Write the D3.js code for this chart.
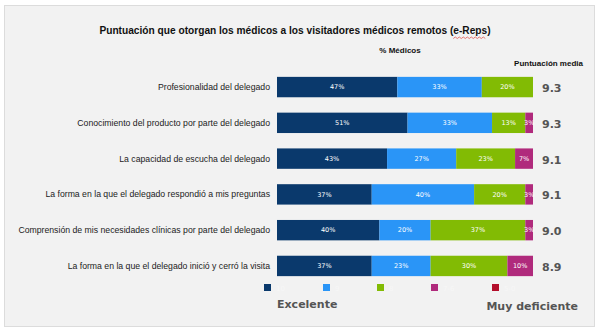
<!doctype html>
<html>
<head>
  <meta charset="utf-8">
  <script src="https://d3js.org/d3.v7.min.js"></script>
  <style>
    body { margin: 0; background: #fff; }
    svg { display: block; }
    .cat { font-family: "Liberation Sans", Arial, sans-serif; font-size: 8.7px; fill: #222; }
    .pct { font-family: "DejaVu Sans", Verdana, sans-serif; font-size: 6.5px; fill: #fff; }
    .score { font-family: "DejaVu Sans", Verdana, sans-serif; font-size: 11px; font-weight: bold; fill: #555; }
    .head { font-family: "Liberation Sans", Arial, sans-serif; font-weight: bold; fill: #111; }
    .scale-end { font-family: "DejaVu Sans", Verdana, sans-serif; font-size: 11px; font-weight: bold; fill: #555; }
  </style>
</head>
<body>
<script>
  var categories = [
    "Profesionalidad del delegado",
    "Conocimiento del producto por parte del delegado",
    "La capacidad de escucha del delegado",
    "La forma en la que el delegado respondió a mis preguntas",
    "Comprensión de mis necesidades clínicas por parte del delegado",
    "La forma en la que el delegado inició y cerró la visita"
  ];
  var ratings = ["10", "9", "8", "7-6", "5-0"];
  var score10 = [47, 51, 43, 37, 40, 37];
  var score9  = [33, 33, 27, 40, 20, 23];
  var score8  = [20, 13, 23, 20, 37, 30];
  var score76 = [0, 3, 7, 3, 3, 10];
  var score50 = [0, 0, 0, 0, 0, 0];
  var meanScore = [9.3, 9.3, 9.1, 9.1, 9.0, 8.9];
  var colors = ["#0a396c", "#2a95f7", "#82bb04", "#b02a7c", "#b30e2b"];

  var W = 600, H = 333;
  var svg = d3.select("body").append("svg").attr("width", W).attr("height", H);

  // panel
  svg.append("rect")
    .attr("x", 4.5).attr("y", 5.5).attr("width", 590).attr("height", 321)
    .attr("fill", "#f2f2f2").attr("stroke", "#dcdcdc");

  var titleText = "Puntuación que otorgan los médicos a los visitadores médicos remotos (e-Reps)";
  var title = svg.append("text").attr("class", "head")
    .attr("x", 295).attr("y", 34).attr("text-anchor", "middle")
    .style("font-size", "12px")
    .text(titleText);
  // size the title so it spans ~392px
  var tw = title.node().getComputedTextLength();
  title.style("font-size", (12 * 392 / tw) + "px");

  // spell-check squiggle under e-Reps
  var tnode = title.node();
  var start = titleText.indexOf("e-Reps");
  var sx = tnode.getStartPositionOfChar(start).x;
  var ex = tnode.getEndPositionOfChar(start + 5).x;
  var squig = d3.range(sx, ex, 2).map(function (d, i) { return [d, i % 2 ? 37 : 38.5]; });
  svg.append("path").attr("d", d3.line()(squig)).attr("fill", "none")
    .attr("stroke", "#e0403a").attr("stroke-width", 0.7);

  svg.append("text").attr("class", "head")
    .attr("x", 400).attr("y", 53).attr("text-anchor", "middle")
    .style("font-size", "8px").text("% Médicos");

  svg.append("text").attr("class", "head")
    .attr("x", 583).attr("y", 66).attr("text-anchor", "end")
    .style("font-size", "8px").text("Puntuación media");

  var x = d3.scaleLinear().domain([0, 100]).range([277, 533]);
  var y = d3.scaleBand().domain(categories).range([69, 284]).paddingInner(0.43).paddingOuter(0.22);

  var series = [score10, score9, score8, score76, score50];
  var rows = categories.map(function (c, i) {
    var row = { cat: c };
    ratings.forEach(function (r, k) { row[r] = series[k][i]; });
    return row;
  });
  var stacked = d3.stack().keys(ratings)(rows);

  var layer = svg.selectAll("g.layer").data(stacked).enter().append("g")
    .attr("class", "layer").attr("fill", function (d, k) { return colors[k]; });

  layer.selectAll("rect").data(function (d) { return d; }).enter().append("rect")
    .attr("x", function (d) { return x(d[0]); })
    .attr("y", function (d) { return y(d.data.cat); })
    .attr("width", function (d) { return x(d[1]) - x(d[0]); })
    .attr("height", y.bandwidth());

  layer.selectAll("text").data(function (d) { return d.filter(function (s) { return s[1] - s[0] > 0; }); })
    .enter().append("text").attr("class", "pct")
    .attr("x", function (d) { return (x(d[0]) + x(d[1])) / 2; })
    .attr("y", function (d) { return y(d.data.cat) + y.bandwidth() / 2 + 2.3; })
    .attr("text-anchor", "middle")
    .text(function (d) { return (d[1] - d[0]) + "%"; });

  svg.selectAll("text.cat").data(categories).enter().append("text")
    .attr("class", "cat")
    .attr("x", 270)
    .attr("y", function (d) { return y(d) + y.bandwidth() / 2 + 3; })
    .attr("text-anchor", "end")
    .text(function (d) { return d; });

  svg.selectAll("text.score").data(meanScore).enter().append("text")
    .attr("class", "score")
    .attr("x", 542)
    .attr("y", function (d, i) { return y(categories[i]) + y.bandwidth() / 2 + 5; })
    .text(function (d) { return d.toFixed(1); });

  // legend
  var legendX = [264, 323, 377, 431, 492];
  var lg = svg.selectAll("g.legend").data(ratings).enter().append("g")
    .attr("class", "legend")
    .attr("transform", function (d, i) { return "translate(" + legendX[i] + ",284)"; });
  lg.append("rect").attr("width", 7).attr("height", 7)
    .attr("fill", function (d, i) { return colors[i]; });
  lg.append("text").attr("x", 12).attr("y", 7)
    .style("font-family", "DejaVu Sans, sans-serif").style("font-size", "7px")
    .attr("fill", "#f7f7f7").text(function (d) { return d; });

  svg.append("text").attr("class", "scale-end")
    .attr("x", 277).attr("y", 308).text("Excelente");
  svg.append("text").attr("class", "scale-end")
    .attr("x", 578).attr("y", 310).attr("text-anchor", "end").text("Muy deficiente");
</script>
</body>
</html>
